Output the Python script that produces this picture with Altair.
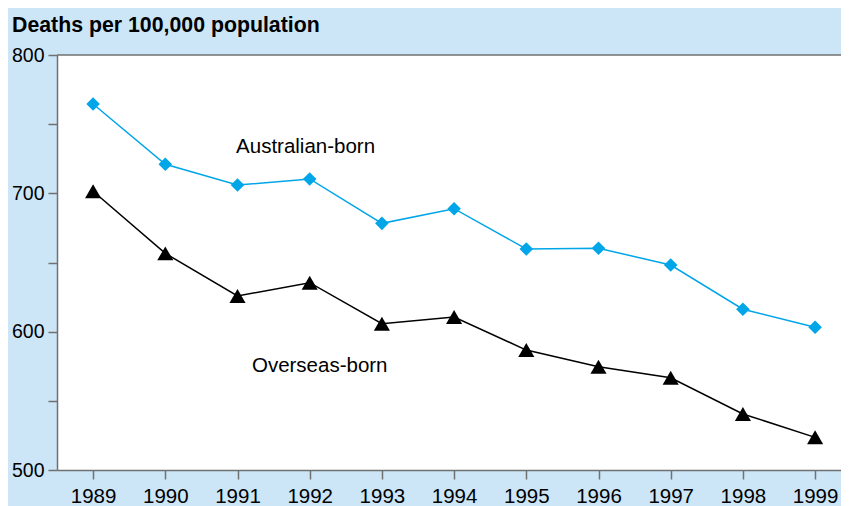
import altair as alt
import pandas as pd

years = list(range(1989, 2000))
australian_born = [764.6, 721.0, 706.0, 710.4, 678.3, 688.9, 659.8, 660.3, 648.2, 616.2, 603.2]
overseas_born = [701.5, 656.6, 625.8, 635.4, 605.8, 610.6, 586.7, 574.7, 566.7, 540.5, 523.6]

series_names = ["Australian-born", "Overseas-born"]
label_x = [1990.98, 1991.2]
label_y = [733.7, 575.0]

y_ticks = [500, 550, 600, 650, 700, 750, 800]
title_text = ["Deaths per 100,000 population"]

BLUE = "#00a6e8"
BLACK = "#000000"
BG = "#cce6f8"
AXIS = "#707070"
FONT = "Liberation Sans"

W, H = 784, 415

aus_df = pd.DataFrame({"year": years, "value": australian_born})
ovs_df = pd.DataFrame({"year": years, "value": overseas_born})
lab_df = pd.DataFrame({"label": series_names, "year": label_x, "value": label_y})
title_df = pd.DataFrame({"t": title_text})

x_enc = alt.X(
    "year:Q",
    scale=alt.Scale(domain=[1988.5, 1988.5 + W / 72.2], nice=False, zero=False),
    axis=alt.Axis(
        values=years, format="d", title=None, grid=False,
        domainColor=AXIS, domainWidth=1.5, tickColor=AXIS, tickWidth=1.5,
        tickSize=9, labelPadding=7, labelFontSize=20.5, labelFont=FONT,
        labelColor="#000000", labelFlush=False, labelOverlap=False,
    ),
)
y_enc = alt.Y(
    "value:Q",
    scale=alt.Scale(domain=[500, 800], nice=False, zero=False),
    axis=alt.Axis(
        values=y_ticks, title=None, grid=False,
        labelExpr="datum.value % 100 == 0 ? datum.value : ''",
        domainColor=AXIS, domainWidth=1.5, tickColor=AXIS, tickWidth=1.5,
        tickSize=9, labelPadding=4, labelFontSize=19.5, labelFont=FONT,
        labelColor="#000000", labelOverlap=False,
    ),
)

top_border = alt.Chart(title_df).mark_rule(color=AXIS, strokeWidth=1.5).encode(
    x=alt.value(0), x2=alt.value(W), y=alt.value(0)
)

aus_line = alt.Chart(aus_df).mark_line(color=BLUE, strokeWidth=1.5).encode(x=x_enc, y=y_enc)
aus_pts = alt.Chart(aus_df).mark_point(
    shape="diamond", filled=True, color=BLUE, opacity=1, size=185
).encode(x="year:Q", y="value:Q")

ovs_line = alt.Chart(ovs_df).mark_line(color=BLACK, strokeWidth=1.5).encode(x="year:Q", y="value:Q")
ovs_pts = alt.Chart(ovs_df).mark_point(
    shape="triangle-up", filled=True, color=BLACK, opacity=1, size=260
).encode(x="year:Q", y="value:Q")

labels = alt.Chart(lab_df).mark_text(
    align="left", baseline="middle", fontSize=20.5, font=FONT, color="#000000"
).encode(x="year:Q", y="value:Q", text="label:N")

title = alt.Chart(title_df).mark_text(
    align="left", baseline="alphabetic", fontSize=21.3, fontWeight="bold",
    font=FONT, color="#000000"
).encode(x=alt.value(-45), y=alt.value(-23.5), text="t:N")

chart = (
    alt.layer(aus_line, ovs_line, aus_pts, ovs_pts, labels, title, top_border)
    .properties(
        width=W, height=H,
        autosize=alt.AutoSizeParams(type="none"),
        padding={"left": 49, "top": 47, "right": 0, "bottom": 36},
        background=BG,
    )
    .configure_view(fill="white", strokeWidth=0)
)

chart.save("out.html", embed_options={"renderer": "svg", "actions": False})
